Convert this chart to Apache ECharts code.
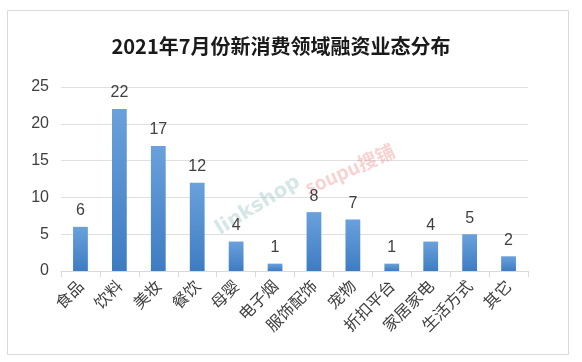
<!DOCTYPE html>
<html>
<head>
<meta charset="utf-8">
<script src="https://cdn.jsdelivr.net/npm/echarts@6/dist/echarts.min.js"></script>
<style>
html,body{margin:0;padding:0;background:#fff;}
#chart{width:582px;height:362px;}
</style>
</head>
<body>
<div id="chart"></div>
<script>
const title = '2021年7月份新消费领域融资业态分布';
const categories = ['食品','饮料','美妆','餐饮','母婴','电子烟','服饰配饰','宠物','折扣平台','家居家电','生活方式','其它'];
const values = [6, 22, 17, 12, 4, 1, 8, 7, 1, 4, 5, 2];
const yTicks = { min: 0, max: 25, interval: 5 };

const FONT = '"Noto Sans CJK SC", "Noto Sans", sans-serif';
const NUMFONT = '"Liberation Sans", "Noto Sans CJK SC", sans-serif';
const chart = echarts.init(document.getElementById('chart'), null, { renderer: 'canvas' });
chart.setOption({
  animation: false,
  backgroundColor: '#ffffff',
  title: {
    text: title,
    left: 276,
    top: 31,
    textAlign: 'center',
    textStyle: { fontFamily: FONT, fontSize: 20, fontWeight: 'bold', color: '#1a1a1a' }
  },
  graphic: [
    { type: 'rect', shape: { x: 7.5, y: 10.5, width: 561, height: 344 },
      style: { fill: 'none', stroke: '#d9d9d9', lineWidth: 1 }, z: 0 },
    { type: 'text', x: 212, y: 222, rotation: 0.55,
      style: { text: 'linkshop', font: 'bold 20px "DejaVu Sans", sans-serif', fill: 'rgba(120,175,175,0.3)' }, z: 1 },
    { type: 'text', x: 302, y: 180, rotation: 0.42,
      style: { text: 'soupu搜铺', font: 'bold 19px "Noto Sans CJK SC", sans-serif', fill: 'rgba(235,125,120,0.35)' }, z: 1 }
  ],
  grid: { left: 61, right: 54, top: 87, bottom: 91, containLabel: false },
  xAxis: {
    type: 'category',
    data: categories,
    boundaryGap: true,
    axisLine: { show: true, lineStyle: { color: '#d9d9d9', width: 1 } },
    axisTick: { show: true, alignWithLabel: false, length: 6, lineStyle: { color: '#d9d9d9' } },
    axisLabel: { rotate: 45, interval: 0, margin: 12, fontFamily: FONT, fontSize: 16, color: '#404040' }
  },
  yAxis: {
    type: 'value',
    min: yTicks.min, max: yTicks.max, interval: yTicks.interval,
    axisLine: { show: false },
    axisTick: { show: false },
    splitLine: { lineStyle: { color: '#e0e0e0', width: 1 } },
    axisLabel: { margin: 12, fontFamily: NUMFONT, fontSize: 16, color: '#404040' }
  },
  series: [{
    type: 'bar',
    data: values,
    barWidth: '38%',
    itemStyle: {
      color: new echarts.graphic.LinearGradient(0, 0, 0, 1, [
        { offset: 0, color: '#6aa1dc' },
        { offset: 1, color: '#3e7cc2' }
      ])
    },
    label: { show: true, position: 'top', distance: 8, fontFamily: NUMFONT, fontSize: 16, color: '#404040' }
  }]
});
</script>
</body>
</html>
